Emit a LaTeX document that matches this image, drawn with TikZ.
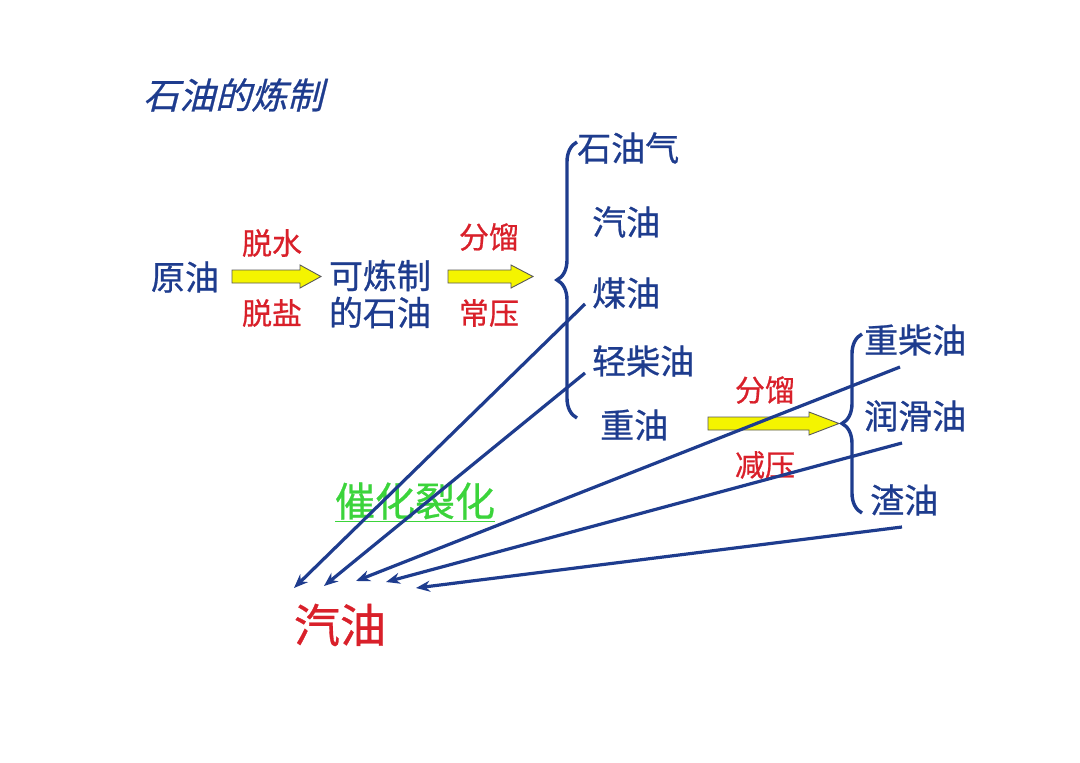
\documentclass[tikz,border=0pt]{standalone}
\usepackage{fontspec}
\setmainfont{Noto Sans CJK SC}[FakeBold=0.7]
\newfontfamily\cjkit[FakeSlant=0.25,FakeBold=0.7]{Noto Sans CJK SC}
\usetikzlibrary{arrows.meta,decorations.pathreplacing}
\definecolor{navy}{HTML}{1E3C8E}
\definecolor{lblred}{HTML}{D9202A}
\definecolor{grn}{HTML}{3BD43B}
\definecolor{yel}{HTML}{F4F400}
\tikzset{
  btxt/.style={text=navy,font=\fontsize{34}{38}\selectfont,inner sep=0pt,align=center},
  rtxt/.style={text=lblred,font=\fontsize{30}{34}\selectfont,inner sep=0pt},
  yarrow/.style={fill=yel,draw=black!65,line width=0.9pt,line join=miter},
  brc/.style={draw=navy,line width=3.4pt,decorate,decoration={brace,amplitude=20pt}},
  feed/.style={draw=navy,line width=3.2pt,-{Stealth[length=14pt,width=11pt]}}
}
\begin{document}
\begin{tikzpicture}[x=1pt,y=-1pt]
\useasboundingbox[fill=white] (0,0) rectangle (1080,763);
% title
\node[anchor=west,text=navy,font=\fontsize{36}{40}\selectfont\cjkit,inner sep=0pt] (title) at (143,95) {石油的炼制};
% first row
\node[btxt] (crude) at (185,277) {原油};
\node[rtxt] (l1) at (272,243) {脱水};
\node[rtxt] (l2) at (272,313) {脱盐};
\node[btxt] (refinable) at (380,294) {可炼制\\[-1pt]的石油};
\node[rtxt] (l3) at (489,237) {分馏};
\node[rtxt] (l4) at (489,313) {常压};
% yellow arrows
\draw[yarrow] (232,270) -- (300,270) -- (300,265) -- (321,276.5) -- (300,288) -- (300,283) -- (232,283) -- cycle;
\draw[yarrow] (448,270) -- (511,270) -- (511,265) -- (533,276.5) -- (511,288) -- (511,283) -- (448,283) -- cycle;
\draw[yarrow] (708,417) -- (809,417) -- (809,412) -- (839,423.5) -- (809,435) -- (809,430) -- (708,430) -- cycle;
% brace 1
\path[brc] (577,418) -- (577,142);
\node[btxt,anchor=west] (gas) at (577,148) {石油气};
\node[btxt,anchor=west] (petrol) at (592,222) {汽油};
\node[btxt,anchor=west] (kero) at (592,293) {煤油};
\node[btxt,anchor=west] (diesel) at (592,361) {轻柴油};
\node[btxt,anchor=west] (heavy) at (600,425) {重油};
\node[rtxt] (l5) at (765,390) {分馏};
\node[rtxt] (l6) at (765,465) {减压};
% brace 2
\path[brc] (862,513) -- (862,334);
\node[btxt,anchor=west] (hdiesel) at (864,340) {重柴油};
\node[btxt,anchor=west] (lube) at (864,416) {润滑油};
\node[btxt,anchor=west] (resid) at (870,500) {渣油};
% catalytic cracking
\node[text=grn,font=\fontsize{40}{44}\selectfont,inner sep=0pt] (cc) at (415,502) {\underline{催化裂化}};
% product
\node[text=lblred,font=\fontsize{46}{50}\selectfont,inner sep=0pt] (gasoline) at (340,625) {汽油};
% line start / end points
\coordinate (s1) at (585,304);
\coordinate (s2) at (585,373);
\coordinate (s3) at (900,367);
\coordinate (s4) at (902,443);
\coordinate (s5) at (902,527);
\coordinate (e1) at (294,588);
\coordinate (e2) at (324,586);
\coordinate (e3) at (356,581);
\coordinate (e4) at (386,582);
\coordinate (e5) at (416,588);
\draw[feed] (s1) -- (e1);
\draw[feed] (s2) -- (e2);
\draw[feed] (s3) -- (e3);
\draw[feed] (s4) -- (e4);
\draw[feed] (s5) -- (e5);
\end{tikzpicture}
\end{document}
